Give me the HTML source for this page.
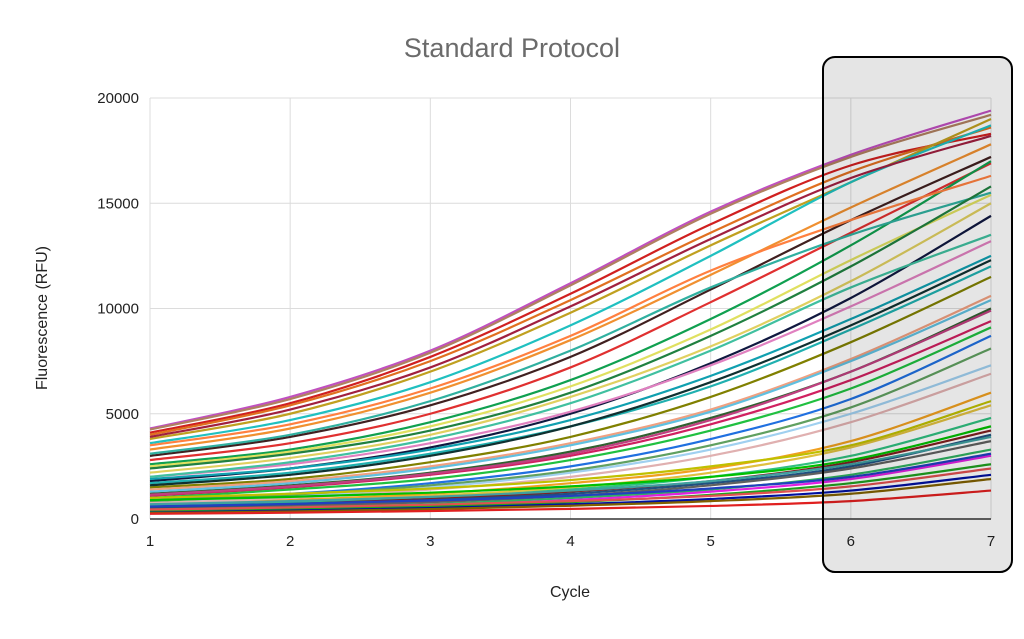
<!DOCTYPE html>
<html><head><meta charset="utf-8"><style>
body{margin:0;background:#fff;width:1024px;height:634px;overflow:hidden}
svg text{font-family:"Liberation Sans",sans-serif}
</style></head><body>
<svg id="chart" width="1024" height="634" xmlns="http://www.w3.org/2000/svg">
<text x="512" y="57" text-anchor="middle" font-size="27" fill="#6b6b6b">Standard Protocol</text>
<text transform="translate(47,318) rotate(-90)" text-anchor="middle" font-size="16" fill="#222">Fluorescence (RFU)</text>
<text x="570" y="597" text-anchor="middle" font-size="16" fill="#222">Cycle</text>
<g id="grid"></g><g id="lines"></g><g id="axes"></g>
<rect x="823" y="57" width="189" height="515" rx="12" fill="rgba(0,0,0,0.1)" stroke="#000" stroke-width="2"/>
</svg>
<script>
const cycles=[1,2,3,4,5,6,7];
const yTicks=[0,5000,10000,15000,20000];
const colors=["#c050c0","#b08060","#d02020","#e07020","#c0a020","#20c0c0","#a02040","#f09030","#402020","#e03030","#10a050","#30b0a0","#e0e060","#208040","#101840","#e080c0","#10a0b0","#808000","#20b0b0","#f0a080","#306030","#d02060","#20c040","#2070e0","#a0d0f0","#f0a020","#e0c040","#30c080","#802020","#205080","#606060","#30b060","#e020e0","#20a020","#0010a0","#806000","#e02020","#ff8040","#e0d060","#40c0a0","#103030","#60c0e0","#c04080","#60a060","#e0b0b0","#00c000","#2040c0","#c0c000","#40a0a0","#e05050"];
const s01=[4300,5800,8000,11200,14600,17300,19400];
const s02=[4250,5700,7900,11100,14500,17200,19200];
const s03=[4100,5500,7700,10700,14000,16800,18300];
const s04=[4000,5400,7500,10400,13600,16500,18600];
const s05=[3800,5000,7000,9800,13000,16000,19000];
const s06=[3600,4700,6500,9200,12500,16000,18700];
const s07=[3900,5200,7200,10100,13300,16200,18200];
const s08=[3300,4300,6000,8500,11600,14800,17800];
const s09=[3000,3900,5400,7700,10900,14200,17200];
const s10=[2800,3600,5000,7200,10300,13600,16900];
const s11=[2600,3300,4600,6600,9500,13000,17000];
const s12=[3100,4000,5600,8000,11000,13500,15500];
const s13=[2500,3200,4400,6300,9000,12300,15400];
const s14=[2400,3100,4200,6000,8700,12000,15800];
const s15=[1800,2400,3400,5000,7400,10500,14400];
const s16=[2000,2600,3600,5100,7300,10100,13200];
const s17=[1900,2400,3300,4700,6800,9500,12500];
const s18=[1500,1900,2700,3900,5800,8400,11500];
const s19=[1700,2200,3100,4400,6300,9000,12000];
const s20=[1400,1800,2500,3600,5200,7600,10600];
const s21=[1200,1600,2200,3200,4800,7000,10000];
const s22=[1100,1500,2100,3000,4500,6600,9400];
const s23=[1000,1400,1900,2800,4200,6200,9100];
const s24=[900,1200,1700,2500,3800,5700,8700];
const s25=[800,1100,1500,2200,3300,5000,7300];
const s26=[700,900,1200,1700,2400,3700,6000];
const s27=[650,850,1100,1500,2200,3400,5400];
const s28=[600,800,1000,1400,2000,3000,4800];
const s29=[550,700,950,1300,1800,2700,4200];
const s30=[500,650,900,1200,1700,2500,4000];
const s31=[450,600,800,1100,1600,2400,3700];
const s32=[400,550,700,1000,1400,2100,3300];
const s33=[350,500,650,900,1300,1900,3000];
const s34=[350,450,600,800,1150,1700,2600];
const s35=[300,400,520,700,950,1350,2100];
const s36=[280,360,470,630,850,1200,1900];
const s37=[250,300,380,480,620,850,1350];
const s38=[3500,4500,6200,8700,11800,14200,16300];
const s39=[2200,2900,4000,5800,8200,11300,15000];
const s40=[2000,2700,3800,5500,8000,11000,13500];
const s41=[1600,2100,3000,4400,6500,9200,12300];
const s42=[1300,1700,2400,3500,5100,7500,10400];
const s43=[1150,1550,2150,3100,4700,7000,9900];
const s44=[850,1150,1600,2300,3500,5300,8100];
const s45=[750,1000,1400,2000,3000,4600,6900];
const s46=[900,1050,1250,1550,2000,2800,4400];
const s47=[600,720,880,1100,1450,2000,3100];
const s48=[1000,1200,1450,1850,2500,3500,5600];
const s49=[700,850,1050,1350,1800,2600,3900];
const s50=[450,550,680,850,1100,1550,2400];
const series=[s01,s02,s03,s04,s05,s06,s07,s08,s09,s10,s11,s12,s13,s14,s15,s16,s17,s18,s19,s20,s21,s22,s23,s24,s25,s26,s27,s28,s29,s30,s31,s32,s33,s34,s35,s36,s37,s38,s39,s40,s41,s42,s43,s44,s45,s46,s47,s48,s49,s50];
const X=c=>150+(c-1)*(991-150)/6;
const Y=v=>519-v*(519-98)/20000;
const NS="http://www.w3.org/2000/svg";
function mk(t,a,p){const e=document.createElementNS(NS,t);for(const k in a)e.setAttribute(k,a[k]);p.appendChild(e);return e;}
const grid=document.getElementById('grid'),axes=document.getElementById('axes'),lines=document.getElementById('lines');
yTicks.forEach(v=>{
 const l=mk('line',{x1:150,x2:991,y1:Y(v),y2:Y(v),stroke:v===0?'#333':'#dcdcdc','stroke-width':v===0?1.5:1},v===0?axes:grid);
 
 
 const t=mk('text',{x:139,y:Y(v)+5,'text-anchor':'end','font-size':15,fill:'#222'},axes);
 t.textContent=v;
 
 
});
cycles.forEach(c=>{
 const l=mk('line',{x1:X(c),x2:X(c),y1:98,y2:519,stroke:'#dcdcdc','stroke-width':1},grid);
 
 
 const t=mk('text',{x:X(c),y:546,'text-anchor':'middle','font-size':15,fill:'#222'},axes);
 t.textContent=c;
 
 
});
series.forEach((s,i)=>{
 const P=s.map((v,j)=>[X(cycles[j]),Y(v)]);
 let d='M'+P[0][0]+','+P[0][1];
 for(let j=0;j<P.length-1;j++){
  const p0=P[Math.max(j-1,0)],p1=P[j],p2=P[j+1],p3=P[Math.min(j+2,P.length-1)];
  d+=' C'+(p1[0]+(p2[0]-p0[0])/6)+','+(p1[1]+(p2[1]-p0[1])/6)+' '+(p2[0]-(p3[0]-p1[0])/6)+','+(p2[1]-(p3[1]-p1[1])/6)+' '+p2[0]+','+p2[1];
 }
 const e=mk('path',{d:d,fill:'none',stroke:colors[i%colors.length],'stroke-width':2.2},lines);
 
 
});
</script>
</body></html>
